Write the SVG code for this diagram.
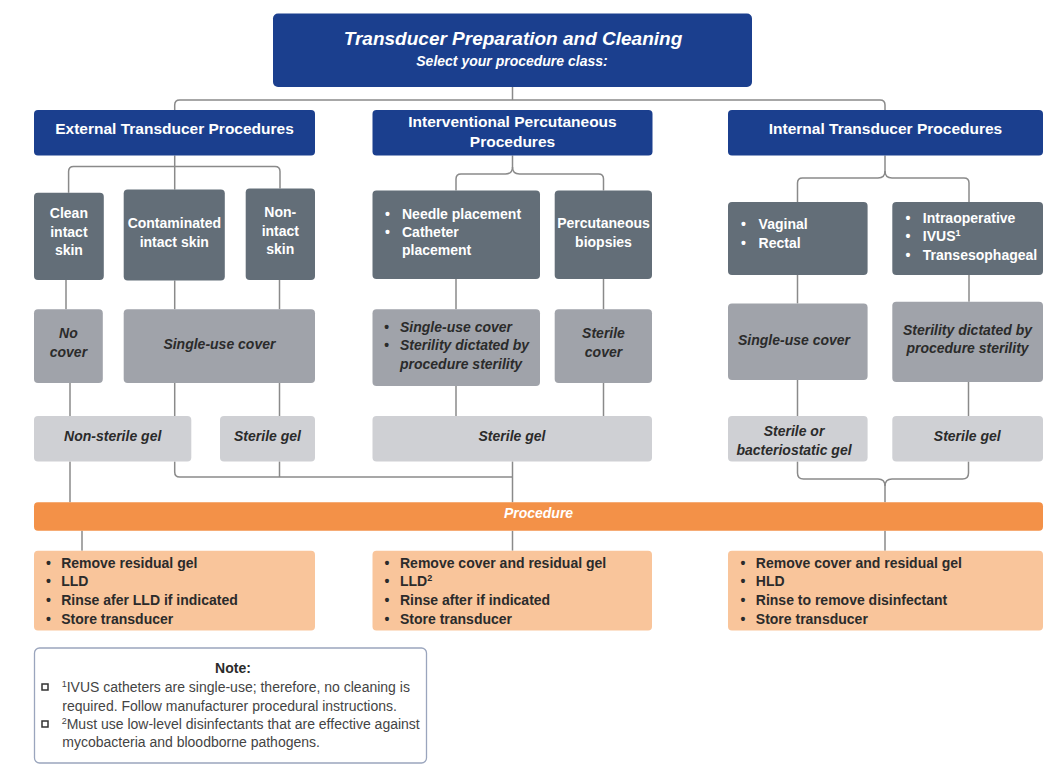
<svg xmlns="http://www.w3.org/2000/svg" width="1061" height="778" viewBox="0 0 1061 778">
<style>
text{font-family:"Liberation Sans",Arial,sans-serif}
.hdr{fill:#1B3F8E}
.dk{fill:#636E78}
.md{fill:#A0A3AA}
.lt{fill:#CFD0D4}
.or{fill:#F39148}
.lo{fill:#F9C59B}
.w{fill:#fff;font-weight:bold;font-size:15.5px}
.wn{fill:#fff;font-weight:bold;font-size:14px}
.it{fill:#2b2b2b;font-weight:bold;font-style:italic;font-size:14px}
.bt{fill:#2b2b2b;font-weight:bold;font-size:14px}
.nt{fill:#444;font-size:14px}
.c{text-anchor:middle}
.sup{font-size:9px}
.conn path{fill:none;stroke:#8a8a8a;stroke-width:1.5}
.sq{fill:none;stroke:#333;stroke-width:1.5}
</style>
<rect width="1061" height="778" fill="#fff"/>

<g class="conn">
<path d="M512.5,87 V100"/>
<path d="M174.7,110 V105 Q174.7,100 179.7,100 H880 Q885,100 885,105 V110"/>
<path d="M174.7,155.5 V189.6"/>
<path d="M68.6,192.7 V171.6 Q68.6,166.6 73.6,166.6 H275 Q280,166.6 280,171.6 V188.6"/>
<path d="M512.5,155.5 V167 Q512.5,174 505.5,174 H461 Q456,174 456,179 V190.6"/>
<path d="M512.5,167 Q512.5,174 519.5,174 H598.5 Q603.5,174 603.5,179 V190.6"/>
<path d="M885,155.5 V171 Q885,178 878,178 H802.5 Q797.5,178 797.5,183 V202"/>
<path d="M885,171 Q885,178 892,178 H964 Q969,178 969,183 V202"/>
<path d="M66,280 V309.3"/>
<path d="M174.7,280.5 V309.3"/>
<path d="M279.5,280 V309.3"/>
<path d="M456,279 V309.3"/>
<path d="M603.5,279 V309.3"/>
<path d="M797.5,275 V303.5"/>
<path d="M969,275 V301.8"/>
<path d="M70,383 V416"/>
<path d="M174.7,383 V416"/>
<path d="M279.5,383 V416"/>
<path d="M456,386 V416"/>
<path d="M603.5,383 V416"/>
<path d="M797.5,380 V416"/>
<path d="M968.5,382 V416"/>
<path d="M70,461.4 V502.3"/>
<path d="M174.7,461.4 V472 Q174.7,477 179.7,477 H512.5"/>
<path d="M279.5,461.4 V477"/>
<path d="M512.5,461.4 V502.3"/>
<path d="M797.5,461.4 V473 Q797.5,479 803.5,479 H878 Q885,479 885,486 V502.3"/>
<path d="M968.5,461.4 V473 Q968.5,479 962.5,479 H892 Q885,479 885,486"/>
<path d="M82,530.8 V550.7"/>
<path d="M512.5,530.8 V550.7"/>
<path d="M885,530.8 V550.7"/>
</g>

<g id="title">
<rect class="hdr" x="273" y="13.5" width="479" height="73.5" rx="5"/>
<text class="c" x="513" y="45" fill="#fff" font-weight="bold" font-style="italic" font-size="19">Transducer Preparation and Cleaning</text>
<text class="c" x="512" y="65.5" fill="#fff" font-weight="bold" font-style="italic" font-size="14">Select your procedure class:</text>
</g>

<g id="external">
<rect class="hdr" x="34" y="110" width="281" height="45.5" rx="4"/>
<text class="w c" x="174.5" y="133.5">External Transducer Procedures</text>
</g>
<g id="interventional">
<rect class="hdr" x="372.5" y="110" width="280" height="45.5" rx="4"/>
<text class="w c" x="512.5" y="126.5">Interventional Percutaneous</text>
<text class="w c" x="512.5" y="147">Procedures</text>
</g>
<g id="internal">
<rect class="hdr" x="728" y="110" width="315" height="45.5" rx="4"/>
<text class="w c" x="885.5" y="133.5">Internal Transducer Procedures</text>
</g>

<g id="clean">
<rect class="dk" x="34" y="192.7" width="69.8" height="87.3" rx="4"/>
<text class="wn c" x="68.9" y="218">Clean</text>
<text class="wn c" x="68.9" y="236.6">intact</text>
<text class="wn c" x="68.9" y="255.2">skin</text>
</g>
<g id="contaminated">
<rect class="dk" x="123.7" y="189.6" width="101.1" height="90.9" rx="4"/>
<text class="wn c" x="174.3" y="228.2">Contaminated</text>
<text class="wn c" x="174.3" y="246.8">intact skin</text>
</g>
<g id="nonintact">
<rect class="dk" x="245.7" y="188.6" width="69.3" height="91.4" rx="4"/>
<text class="wn c" x="280.3" y="217.4">Non-</text>
<text class="wn c" x="280.3" y="235.9">intact</text>
<text class="wn c" x="280.3" y="254.4">skin</text>
</g>
<g id="needle">
<rect class="dk" x="372.5" y="190.6" width="167.5" height="88.4" rx="4"/>
<text class="wn" x="385" y="218.7">•</text><text class="wn" x="402" y="218.7">Needle placement</text>
<text class="wn" x="385" y="237.3">•</text><text class="wn" x="402" y="237.3">Catheter</text>
<text class="wn" x="402" y="255.4">placement</text>
</g>
<g id="biopsies">
<rect class="dk" x="554.7" y="190.6" width="97.3" height="88.4" rx="4"/>
<text class="wn c" x="603.5" y="228.4">Percutaneous</text>
<text class="wn c" x="603.5" y="247.2">biopsies</text>
</g>
<g id="vaginal">
<rect class="dk" x="728" y="202" width="139.6" height="73" rx="4"/>
<text class="wn" x="741" y="229.4">•</text><text class="wn" x="758.6" y="229.4">Vaginal</text>
<text class="wn" x="741" y="248.2">•</text><text class="wn" x="758.6" y="248.2">Rectal</text>
</g>
<g id="intraop">
<rect class="dk" x="892.3" y="202" width="150.7" height="73" rx="4"/>
<text class="wn" x="905.5" y="222.8">•</text><text class="wn" x="922.8" y="222.8">Intraoperative</text>
<text class="wn" x="905.5" y="241.4">•</text><text class="wn" x="922.8" y="241.4">IVUS<tspan class="sup" dy="-5">1</tspan></text>
<text class="wn" x="905.5" y="259.7">•</text><text class="wn" x="922.8" y="259.7">Transesophageal</text>
</g>

<g id="nocover">
<rect class="md" x="34" y="309.3" width="68.8" height="73.7" rx="4"/>
<text class="it c" x="68.4" y="338">No</text>
<text class="it c" x="68.4" y="356.5">cover</text>
</g>
<g id="singleuse-ext">
<rect class="md" x="123.7" y="309.3" width="191.3" height="73.7" rx="4"/>
<text class="it c" x="219.4" y="348.8">Single-use cover</text>
</g>
<g id="cover-interv">
<rect class="md" x="372.5" y="309.3" width="167.5" height="76.7" rx="4"/>
<text class="it" x="384" y="331.9">•</text><text class="it" x="400" y="331.9">Single-use cover</text>
<text class="it" x="384" y="350.4">•</text><text class="it" x="400" y="350.4">Sterility dictated by</text>
<text class="it" x="400" y="369">procedure sterility</text>
</g>
<g id="sterilecover">
<rect class="md" x="554.7" y="309.3" width="97.3" height="73.7" rx="4"/>
<text class="it c" x="603.5" y="338">Sterile</text>
<text class="it c" x="603.5" y="356.5">cover</text>
</g>
<g id="singleuse-int">
<rect class="md" x="728" y="303.5" width="139.6" height="76.5" rx="4"/>
<text class="it c" x="794" y="344.7">Single-use cover</text>
</g>
<g id="sterility-int">
<rect class="md" x="892.3" y="301.8" width="150.7" height="80.2" rx="4"/>
<text class="it c" x="967.5" y="334.6">Sterility dictated by</text>
<text class="it c" x="967.5" y="353">procedure sterility</text>
</g>

<g id="nonsterilegel">
<rect class="lt" x="34" y="416" width="157.3" height="45.4" rx="4"/>
<text class="it c" x="112.7" y="440.5">Non-sterile gel</text>
</g>
<g id="sterilegel-ext">
<rect class="lt" x="220" y="416" width="95" height="45.4" rx="4"/>
<text class="it c" x="267.5" y="440.5">Sterile gel</text>
</g>
<g id="sterilegel-interv">
<rect class="lt" x="372.5" y="416" width="279.5" height="45.4" rx="4"/>
<text class="it c" x="512" y="440.5">Sterile gel</text>
</g>
<g id="bacteriostatic">
<rect class="lt" x="728" y="416" width="139.6" height="45.4" rx="4"/>
<text class="it c" x="794" y="435.8">Sterile or</text>
<text class="it c" x="794" y="454.5">bacteriostatic gel</text>
</g>
<g id="sterilegel-int">
<rect class="lt" x="892.3" y="416" width="150.7" height="45.4" rx="4"/>
<text class="it c" x="967.3" y="440.5">Sterile gel</text>
</g>

<g id="procedure">
<rect class="or" x="34" y="502.3" width="1009" height="28.5" rx="4"/>
<text class="c" x="538.5" y="518" fill="#fff" font-weight="bold" font-style="italic" font-size="14">Procedure</text>
</g>

<g id="clean-ext">
<rect class="lo" x="34" y="550.7" width="281" height="79.8" rx="4"/>
<text class="bt" x="46" y="567.7">•</text><text class="bt" x="61.2" y="567.7">Remove residual gel</text>
<text class="bt" x="46" y="586.3">•</text><text class="bt" x="61.2" y="586.3">LLD</text>
<text class="bt" x="46" y="604.9">•</text><text class="bt" x="61.2" y="604.9">Rinse afer LLD if indicated</text>
<text class="bt" x="46" y="623.5">•</text><text class="bt" x="61.2" y="623.5">Store transducer</text>
</g>
<g id="clean-interv">
<rect class="lo" x="372.5" y="550.7" width="279.5" height="79.8" rx="4"/>
<text class="bt" x="384.5" y="567.7">•</text><text class="bt" x="400" y="567.7">Remove cover and residual gel</text>
<text class="bt" x="384.5" y="586.3">•</text><text class="bt" x="400" y="586.3">LLD<tspan class="sup" dy="-5">2</tspan></text>
<text class="bt" x="384.5" y="604.9">•</text><text class="bt" x="400" y="604.9">Rinse after if indicated</text>
<text class="bt" x="384.5" y="623.5">•</text><text class="bt" x="400" y="623.5">Store transducer</text>
</g>
<g id="clean-int">
<rect class="lo" x="728" y="550.7" width="315" height="79.8" rx="4"/>
<text class="bt" x="740.5" y="567.7">•</text><text class="bt" x="755.8" y="567.7">Remove cover and residual gel</text>
<text class="bt" x="740.5" y="586.3">•</text><text class="bt" x="755.8" y="586.3">HLD</text>
<text class="bt" x="740.5" y="604.9">•</text><text class="bt" x="755.8" y="604.9">Rinse to remove disinfectant</text>
<text class="bt" x="740.5" y="623.5">•</text><text class="bt" x="755.8" y="623.5">Store transducer</text>
</g>

<g id="note">
<rect x="34.5" y="648" width="392" height="115" rx="5" fill="#fff" stroke="#9AA5BD" stroke-width="1.3"/>
<text class="bt c" x="233" y="673" fill="#333">Note:</text>
<rect class="sq" x="42" y="684" width="6" height="6"/>
<text class="nt" x="61.7" y="692"><tspan class="sup" dy="-5">1</tspan><tspan dy="5">IVUS catheters are single-use; therefore, no cleaning is</tspan></text>
<text class="nt" x="62.3" y="710.5">required. Follow manufacturer procedural instructions.</text>
<rect class="sq" x="42" y="721" width="6" height="6"/>
<text class="nt" x="61.7" y="728.5"><tspan class="sup" dy="-5">2</tspan><tspan dy="5">Must use low-level disinfectants that are effective against</tspan></text>
<text class="nt" x="62.3" y="746.5">mycobacteria and bloodborne pathogens.</text>
</g>
</svg>
